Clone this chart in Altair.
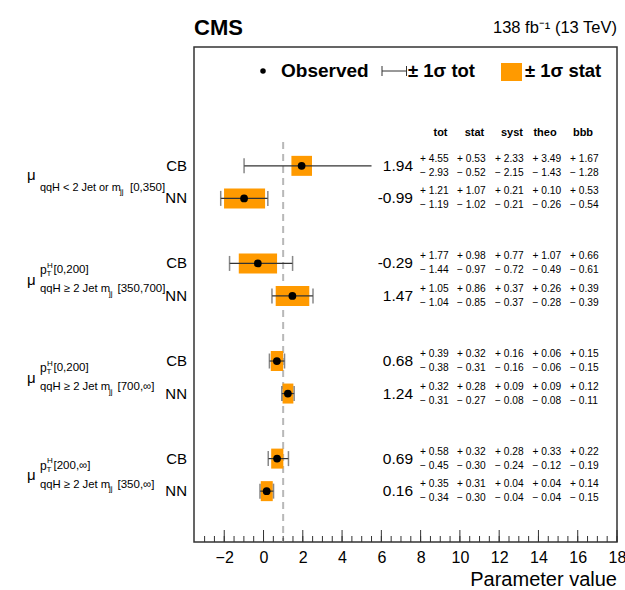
import altair as alt
import pandas as pd
import numpy as np

FONT = "Liberation Sans"
ORANGE = "#ff9a00"

# ---- fit results: CB and NN categorisations for four qqH bins ----
methods = ["CB", "NN", "CB", "NN", "CB", "NN", "CB", "NN"]
bin_index = [0, 0, 1, 1, 2, 2, 3, 3]
best_fit = [1.94, -0.99, -0.29, 1.47, 0.68, 1.24, 0.69, 0.16]
tot_up = [4.55, 1.21, 1.77, 1.05, 0.39, 0.32, 0.58, 0.35]
tot_dn = [2.93, 1.19, 1.44, 1.04, 0.38, 0.31, 0.45, 0.34]
stat_up = [0.53, 1.07, 0.98, 0.86, 0.32, 0.28, 0.32, 0.31]
stat_dn = [0.52, 1.02, 0.97, 0.85, 0.31, 0.27, 0.30, 0.30]
syst_up = [2.33, 0.21, 0.77, 0.37, 0.16, 0.09, 0.28, 0.04]
syst_dn = [2.15, 0.21, 0.72, 0.37, 0.16, 0.08, 0.24, 0.04]
theo_up = [3.49, 0.10, 1.07, 0.26, 0.06, 0.09, 0.33, 0.04]
theo_dn = [1.43, 0.26, 0.49, 0.28, 0.06, 0.08, 0.12, 0.04]
bbb_up = [1.67, 0.53, 0.66, 0.39, 0.15, 0.12, 0.22, 0.14]
bbb_dn = [1.28, 0.54, 0.61, 0.39, 0.15, 0.11, 0.19, 0.15]

# ---- parameter labels (one per bin) ----
sub_main = ["qqH < 2 Jet or m", "qqH \u2265 2 Jet m", "qqH \u2265 2 Jet m", "qqH \u2265 2 Jet m"]
sub_range = ["[0,350]", "[350,700]", "[700,\u221e]", "[350,\u221e]"]
pt_range = ["", "[0,200]", "[0,200]", "[200,\u221e]"]

x_ticks_major = [-2, 0, 2, 4, 6, 8, 10, 12, 14, 16, 18]
x_domain = [-3.54, 18]
text_edge = 5.5  # the total-uncertainty line stops where the numbers column begins

W, H = 423, 495

rows = [3 * b + (0 if m == "CB" else 1) for b, m in zip(bin_index, methods)]
df = pd.DataFrame({
    "row": rows,
    "method": methods,
    "val": best_fit,
    "tot_lo": [v - d for v, d in zip(best_fit, tot_dn)],
    "tot_hi": [v + u for v, u in zip(best_fit, tot_up)],
    "stat_lo": [v - d for v, d in zip(best_fit, stat_dn)],
    "stat_hi": [v + u for v, u in zip(best_fit, stat_up)],
    "label": [f"{v:.2f}" for v in best_fit],
})
df["tot_hi_draw"] = df["tot_hi"].clip(upper=text_edge)

caps = pd.concat([
    pd.DataFrame({"row": df["row"], "x": df["tot_lo"]}),
    pd.DataFrame({"row": df["row"], "x": df["tot_hi"]})[df["tot_hi"] <= text_edge],
])

xs = alt.Scale(domain=x_domain, nice=False, zero=False)
ys = alt.Scale(domain=[-3.5, 11.41], reverse=True, nice=False, zero=False)
X = lambda f: alt.X(f, type="quantitative", scale=xs, title=None,
                    axis=alt.Axis(values=x_ticks_major, ticks=False, domain=False, grid=False,
                                  labelFontSize=16, labelPadding=7, labelFont=FONT,
                                  labelColor="black", labelFlush=False))
Y = alt.Y("row:Q", scale=ys, axis=None)

one = pd.DataFrame({"a": [0]})
layers = []

# reference line at the SM expectation
layers.append(alt.Chart(pd.DataFrame({"ref": [1.0]})).mark_rule(
    color="#b8b8b8", strokeWidth=2, strokeDash=[7, 5]).encode(
    x=X("ref"), y=alt.value(95), y2=alt.value(H)))

# inward axis ticks along the bottom frame
minor = pd.DataFrame({"t": np.arange(-3.0, 18.01, 0.5)})
major = pd.DataFrame({"t": x_ticks_major})
layers.append(alt.Chart(minor).mark_rule(color="#333", strokeWidth=1).encode(
    x=X("t"), y=alt.value(H), y2=alt.value(H - 6)))
layers.append(alt.Chart(major).mark_rule(color="#333", strokeWidth=1).encode(
    x=X("t"), y=alt.value(H), y2=alt.value(H - 12)))

# statistical band, total error bar, best-fit point
layers.append(alt.Chart(df).mark_bar(orient="horizontal", size=20, color=ORANGE).encode(
    x=X("stat_lo"), x2="stat_hi", y=Y))
layers.append(alt.Chart(df).mark_rule(color="#333", strokeWidth=1.2).encode(
    x=X("tot_lo"), x2="tot_hi_draw", y=Y))
layers.append(alt.Chart(caps).mark_tick(orient="vertical", size=15, thickness=1.5, color="#555").encode(
    x=X("x"), y=Y))
layers.append(alt.Chart(df).mark_circle(size=60, color="black", opacity=1).encode(
    x=X("val"), y=Y))

# numbers column
layers.append(alt.Chart(df).mark_text(align="right", baseline="middle", fontSize=15.5, font=FONT,
                                      color="black").encode(
    x=alt.value(219), y=Y, text="label:N"))
col_names = ["tot", "stat", "syst", "theo", "bbb"]
col_up = [tot_up, stat_up, syst_up, theo_up, bbb_up]
col_dn = [tot_dn, stat_dn, syst_dn, theo_dn, bbb_dn]
col_px = [226, 263, 301, 338.5, 376]
col_head_px = [246.5, 280.5, 318, 351, 389]
for name, ups, dns, px, hx in zip(col_names, col_up, col_dn, col_px, col_head_px):
    cdf = pd.DataFrame({"row": rows,
                        "up": [f"+ {u:.2f}" for u in ups],
                        "dn": [f"\u2212 {d:.2f}" for d in dns]})
    layers.append(alt.Chart(cdf).mark_text(align="left", baseline="middle", fontSize=10.2, font=FONT,
                                           dy=-7, color="black").encode(
        x=alt.value(px), y=Y, text="up:N"))
    layers.append(alt.Chart(cdf).mark_text(align="left", baseline="middle", fontSize=10.2, font=FONT,
                                           dy=7, color="black").encode(
        x=alt.value(px), y=Y, text="dn:N"))
    layers.append(alt.Chart(one).mark_text(align="center", baseline="middle", fontSize=11, font=FONT,
                                           fontWeight="bold", text=name, color="black").encode(
        x=alt.value(hx), y=alt.value(86)))

# method labels
layers.append(alt.Chart(df).mark_text(align="right", baseline="middle", fontSize=15, font=FONT,
                                      color="black").encode(
    x=alt.value(-7), y=Y, text="method:N"))

# parameter labels: mu with sub/superscripts
gdf = pd.DataFrame({"row": [3 * g for g in range(4)], "main": sub_main, "rng": sub_range,
                    "pt": pt_range, "g": list(range(4))})
g1 = gdf[gdf["pt"] == ""]
g2 = gdf[gdf["pt"] != ""]


def piece(data, field, xpx, dy, size, base="middle", text=None):
    kw = dict(align="left", baseline=base, fontSize=size, font=FONT, dy=dy, color="black")
    if text is not None:
        kw["text"] = text
    enc = dict(x=alt.value(xpx), y=Y)
    if field is not None:
        enc["text"] = f"{field}:N"
    return alt.Chart(data).mark_text(**kw).encode(**enc)


L = -194
# first bin: subscript only
layers += [
    piece(g1, None, L + 27, 13.7, 15, "alphabetic", "\u03bc"),
    piece(g1, "main", L + 40, 21.7, 10.9),
    piece(g1, None, L + 120, 26, 8, text="jj"),
    piece(g1, "rng", L + 130, 21.7, 11.5),
]
# remaining bins: pT superscript and subscript
layers += [
    piece(g2, None, L + 27, 21.5, 15, "alphabetic", "\u03bc"),
    piece(g2, None, L + 40, 7, 12, text="p"),
    piece(g2, None, L + 47, 2.5, 8, text="H"),
    piece(g2, None, L + 46.5, 11, 8, text="T"),
    piece(g2, "pt", L + 53.5, 7, 11.5),
    piece(g2, "main", L + 40, 26, 11.3),
    piece(g2, None, L + 109, 30.5, 8, text="jj"),
    piece(g2, "rng", L + 117.5, 26, 11.5),
]

# legend
layers += [
    alt.Chart(one).mark_circle(size=30, color="black", opacity=1).encode(
        x=alt.value(69), y=alt.value(24)),
    alt.Chart(one).mark_text(align="left", baseline="middle", fontSize=19, fontWeight="bold",
                             font=FONT, text="Observed", color="black").encode(
        x=alt.value(87), y=alt.value(24)),
    alt.Chart(one).mark_rule(color="#333", strokeWidth=1).encode(
        x=alt.value(188), x2=alt.value(212.5), y=alt.value(24)),
    alt.Chart(pd.DataFrame({"cx": [188, 212.5]})).mark_rule(color="#333", strokeWidth=1).encode(
        x=alt.X("cx:Q", scale=None), y=alt.value(19), y2=alt.value(29)),
    alt.Chart(one).mark_text(align="left", baseline="middle", fontSize=18.5, fontWeight="bold",
                             font=FONT, text="\u00b1 1\u03c3 tot", color="black").encode(
        x=alt.value(214), y=alt.value(24)),
    alt.Chart(one).mark_rect(color=ORANGE).encode(
        x=alt.value(307), x2=alt.value(328), y=alt.value(16), y2=alt.value(34)),
    alt.Chart(one).mark_text(align="left", baseline="middle", fontSize=18.5, fontWeight="bold",
                             font=FONT, text="\u00b1 1\u03c3 stat", color="black").encode(
        x=alt.value(331), y=alt.value(24)),
]

# header and axis title
layers += [
    alt.Chart(one).mark_text(align="left", baseline="alphabetic", fontSize=22, fontWeight="bold",
                             font=FONT, text="CMS", color="black").encode(
        x=alt.value(0), y=alt.value(-12)),
    alt.Chart(one).mark_text(align="right", baseline="alphabetic", fontSize=16.5,
                             font=FONT, text="138 fb\u207b\u00b9 (13 TeV)", color="black").encode(
        x=alt.value(W), y=alt.value(-14)),
    alt.Chart(one).mark_text(align="right", baseline="middle", fontSize=20,
                             font=FONT, text="Parameter value", color="black").encode(
        x=alt.value(W), y=alt.value(H + 38)),
]

chart = alt.layer(*layers).properties(
    width=W, height=H,
    autosize=alt.AutoSizeParams(type="none"),
    padding={"left": 194, "top": 47, "right": 8, "bottom": 48},
).configure_view(stroke="#333", strokeWidth=1.5).resolve_scale(x="shared", y="shared")

chart.save("out.html", embed_options={"renderer": "svg", "actions": False})
